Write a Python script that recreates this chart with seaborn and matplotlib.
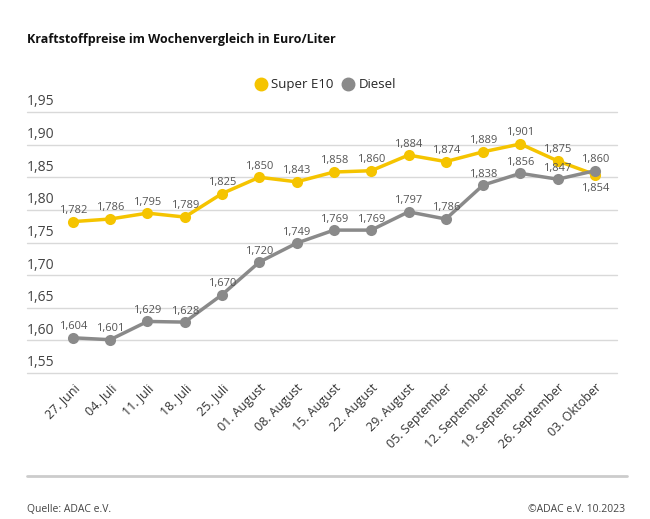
import pandas as pd
import matplotlib
matplotlib.use("Agg")
import matplotlib.pyplot as plt
import seaborn as sns

# Wochen und Preise (Euro/Liter)
wochen = ["27. Juni", "04. Juli", "11. Juli", "18. Juli", "25. Juli",
          "01. August", "08. August", "15. August", "22. August", "29. August",
          "05. September", "12. September", "19. September", "26. September",
          "03. Oktober"]
super_e10 = [1.782, 1.786, 1.795, 1.789, 1.825, 1.850, 1.843, 1.858, 1.860,
             1.884, 1.874, 1.889, 1.901, 1.875, 1.854]
diesel = [1.604, 1.601, 1.629, 1.628, 1.670, 1.720, 1.749, 1.769, 1.769,
          1.797, 1.786, 1.838, 1.856, 1.847, 1.860]
y_ticks = [1.55, 1.60, 1.65, 1.70, 1.75, 1.80, 1.85, 1.90, 1.95]

sns.set_style("white")
plt.rcParams['font.family'] = ['Open Sans', 'DejaVu Sans']

df = pd.DataFrame({
    "pos": list(range(len(wochen))) * 2,
    "preis": super_e10 + diesel,
    "sorte": ["Super E10"] * len(wochen) + ["Diesel"] * len(wochen),
})

gelb = "#F5C400"
grau = "#8A8A8A"
text_grau = "#555555"

fig = plt.figure(figsize=(6.5, 5.19), dpi=100)
ax = fig.add_axes([27 / 650, 1 - 373 / 519, 590 / 650, 261 / 519])

sns.lineplot(data=df, x="pos", y="preis", hue="sorte",
             palette={"Super E10": gelb, "Diesel": grau},
             marker="o", markersize=8, markeredgewidth=0, linewidth=2.5,
             legend=False, ax=ax, zorder=3)

ax.set_xlim(-1.23, 14.59)
ax.set_ylim(1.55, 1.95)
for s in ax.spines.values():
    s.set_visible(False)

# Gitterlinien + Beschriftung oberhalb
for t in y_ticks:
    ax.axhline(t, color="#d9d9d9", linewidth=1, zorder=1, clip_on=False)
    ax.text(0, t + 0.004, f"{t:.2f}".replace(".", ","), transform=ax.get_yaxis_transform(),
            ha="left", va="bottom", fontsize=10, color="#444444")
ax.set_yticks([])
ax.set_ylabel("")
ax.set_xlabel("")

ax.set_xticks(range(len(wochen)))
ax.set_xticklabels(wochen, rotation=45, ha="right", rotation_mode="anchor",
                   fontsize=9, color="#333333")
ax.tick_params(axis="x", length=0, pad=6)

# Wertebeschriftungen
for i, v in enumerate(super_e10):
    if i == len(super_e10) - 1:
        ax.annotate(f"{v:.3f}".replace(".", ","), (i, v), xytext=(0, -6),
                    textcoords="offset points", ha="center", va="top",
                    fontsize=8, color=text_grau)
    else:
        ax.annotate(f"{v:.3f}".replace(".", ","), (i, v), xytext=(0, 4),
                    textcoords="offset points", ha="center", va="bottom",
                    fontsize=8, color=text_grau)
for i, v in enumerate(diesel):
    ax.annotate(f"{v:.3f}".replace(".", ","), (i, v), xytext=(0, 4),
                textcoords="offset points", ha="center", va="bottom",
                fontsize=8, color=text_grau)

# Legende
handles = [plt.Line2D([], [], marker="o", linestyle="", markersize=9, color=c)
           for c in (gelb, grau)]
fig.legend(handles, ["Super E10", "Diesel"], loc="center", bbox_to_anchor=(325 / 650, 1 - 85 / 519),
           ncol=2, frameon=False, fontsize=9.5, handletextpad=0.3, columnspacing=0.6,
           handlelength=1.0)

fig.text(27 / 650, 1 - 40 / 519, "Kraftstoffpreise im Wochenvergleich in Euro/Liter",
         ha="left", va="center", fontsize=9, fontweight="bold", color="#111111")

fig.add_artist(plt.Line2D([27 / 650, 627 / 650], [1 - 476 / 519] * 2,
                          color="#cccccc", linewidth=2))
fig.text(27 / 650, 1 - 510 / 519, "Quelle: ADAC e.V.", ha="left", va="center",
         fontsize=7.5, color="#444444")
fig.text(625 / 650, 1 - 510 / 519, "©ADAC e.V. 10.2023", ha="right", va="center",
         fontsize=7.5, color="#444444")

fig.savefig("out.png", dpi=100)
